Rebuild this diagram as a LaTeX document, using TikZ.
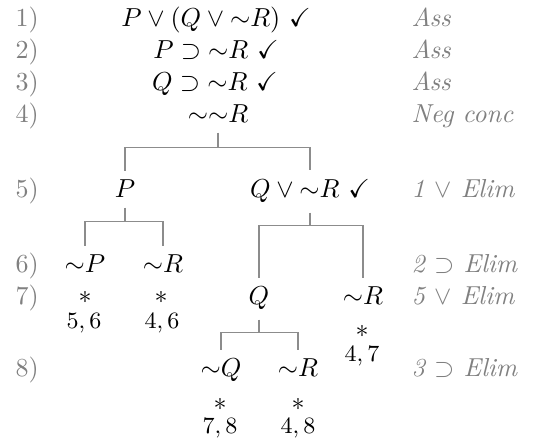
\documentclass[tikz,border=0pt]{standalone}
\usepackage{amsmath, amssymb}
\usepackage{tikz}
\usetikzlibrary{calc}

\begin{document}
\begin{tikzpicture}[
	x=0.3846pt, y=-0.3846pt,
	fml/.style = {anchor=base, inner xsep=1pt, inner ysep=3.5pt},
	lnum/.style = {anchor=base west, inner sep=0pt, text=black!50},
	just/.style = {anchor=base west, inner sep=0pt, text=black!50, font=\itshape},
	branch/.style = {draw=black!45, line width=0.4pt},
	closed/.style = {anchor=base, inner sep=0pt},
	refs/.style = {anchor=base, inner sep=0pt, font=\small}
	]
	\useasboundingbox (0,0) rectangle (535,441);

	% line numbers
	\node[lnum] (l1) at (15,27) {1)};
	\node[lnum] (l2) at (15,59) {2)};
	\node[lnum] (l3) at (15,91) {3)};
	\node[lnum] (l4) at (15,123) {4)};
	\node[lnum] (l5) at (15,198) {5)};
	\node[lnum] (l6) at (15,273) {6)};
	\node[lnum] (l7) at (15,305) {7)};
	\node[lnum] (l8) at (15,377) {8)};

	% trunk
	\node[fml] (r1) at (216,27) {$P \lor (Q \lor {\sim}R)\ \checkmark$};
	\node[fml] (r2) at (216,59) {$P \supset {\sim}R\ \checkmark$};
	\node[fml] (r3) at (215,91) {$Q \supset {\sim}R\ \checkmark$};
	\node[fml] (r4) at (218,123) {${\sim}{\sim}R$};

	% branches
	\node[fml] (p5) at (125,198) {$P$};
	\node[fml] (q5) at (310,198) {$Q \lor {\sim}R\ \checkmark$};

	\node[fml] (np6) at (85,273) {${\sim}P$};
	\node[fml] (nr6) at (163,273) {${\sim}R$};

	\node[fml] (q7) at (259,305) {$Q$};
	\node[fml] (nr7) at (363,305) {${\sim}R$};

	\node[fml] (nq8) at (221,377) {${\sim}Q$};
	\node[fml] (nr8) at (298,377) {${\sim}R$};

	\draw[branch] (r4.south) -- ++(0,15) coordinate (k4);
	\draw[branch] (p5.north) |- (k4) -| (q5.north);

	\draw[branch] (p5.south) -- ++(0,14) coordinate (k5a);
	\draw[branch] (np6.north) |- (k5a) -| (nr6.north);

	\draw[branch] (q5.south) -- ++(0,13) coordinate (k5b);
	\draw[branch] (q7.north) |- (k5b) -| (nr7.north);

	\draw[branch] (q7.south) -- ++(0,13) coordinate (k7);
	\draw[branch] (nq8.north) |- (k7) -| (nr8.north);

	% closed branches
	\node[closed] (x1) at (85,304) {$*$};
	\node[refs] (c1) at (84,329) {$5,6$};
	\node[closed] (x2) at (161,304) {$*$};
	\node[refs] (c2) at (162,329) {$4,6$};
	\node[closed] (x3) at (362,338) {$*$};
	\node[refs] (c3) at (362,362) {$4,7$};
	\node[closed] (x4) at (220,411) {$*$};
	\node[refs] (c4) at (220,434) {$7,8$};
	\node[closed] (x5) at (298,411) {$*$};
	\node[refs] (c5) at (298,434) {$4,8$};

	% justifications
	\node[just] (j1) at (411,27) {Ass};
	\node[just] (j2) at (411,59) {Ass};
	\node[just] (j3) at (411,91) {Ass};
	\node[just] (j4) at (411,123) {Neg conc};
	\node[just] (j5) at (411,198) {1 $\lor$ Elim};
	\node[just] (j6) at (411,273) {2 $\supset$ Elim};
	\node[just] (j7) at (411,305) {5 $\lor$ Elim};
	\node[just] (j8) at (411,377) {3 $\supset$ Elim};

\end{tikzpicture}
\end{document}
